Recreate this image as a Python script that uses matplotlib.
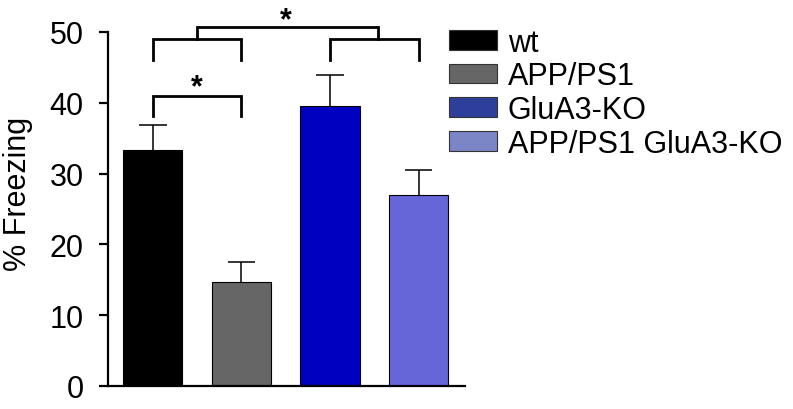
import matplotlib
matplotlib.use("Agg")
import matplotlib.pyplot as plt
from matplotlib.patches import Patch

plt.rcParams["font.family"] = ["Liberation Sans", "DejaVu Sans"]

groups = ["wt", "APP/PS1", "GluA3-KO", "APP/PS1 GluA3-KO"]
freezing = [33.3, 14.7, 39.5, 27.0]
sem = [3.6, 2.8, 4.4, 3.5]
bar_colors = ["#000000", "#666666", "#0000c0", "#6666d8"]
legend_colors = ["#000000", "#666666", "#2e3f9b", "#7b86c6"]
yticks = [0, 10, 20, 30, 40, 50]

fig = plt.figure(figsize=(7.93, 4.10), dpi=100)
ax = fig.add_axes([108/793, 23/410, 357/793, 387/410])

x = list(range(len(groups)))
tops = [m + e for m, e in zip(freezing, sem)]
ax.bar(x, freezing, width=0.667, color=bar_colors, edgecolor="black", linewidth=0.8, zorder=2)
# upper-only error bars
ax.vlines(x, freezing, tops, color="black", lw=1.1, zorder=1)
ax.hlines(tops, [i - 0.153 for i in x], [i + 0.153 for i in x], color="black", lw=1.1, zorder=1)

ax.set_xlim(-0.508, 3.525)
ax.set_ylim(0, 54.66)
ax.set_yticks(yticks)
ax.set_xticks([])
ax.spines["top"].set_visible(False)
ax.spines["right"].set_visible(False)
ax.spines["left"].set_bounds(0, 50)
for s in ("left", "bottom"):
    ax.spines[s].set_linewidth(1.6)
ax.tick_params(axis="y", length=6.5, width=1.6, labelsize=22, pad=11)
ax.set_ylabel("% Freezing", fontsize=22, labelpad=12)

# significance brackets
blw = 2.0
def bracket(x0, x1, y, leg):
    ax.plot([x0, x0, x1, x1], [y - leg, y, y, y - leg], color="black",
            lw=blw, solid_joinstyle="miter", clip_on=False)

bracket(0, 1, 41.0, 2.8)
ax.text(0.5, 40.05, "*", ha="center", va="bottom", fontsize=22, fontweight="bold")
bracket(0, 1, 49.0, 2.9)
bracket(2, 3, 49.0, 2.9)
bracket(0.5, 2.54, 50.7, 1.7)
ax.text(1.5, 49.6, "*", ha="center", va="bottom", fontsize=22, fontweight="bold")

handles = [Patch(facecolor=c, edgecolor="#333333", linewidth=0.8) for c in legend_colors]
fig.legend(handles, groups, loc="upper left", bbox_to_anchor=(444/793, 1 - 24/410),
           frameon=False, fontsize=22, handlelength=1.6, handleheight=0.62,
           handletextpad=0.33, labelspacing=0.12, borderaxespad=0, borderpad=0.15)

fig.savefig("out.png", dpi=100)
